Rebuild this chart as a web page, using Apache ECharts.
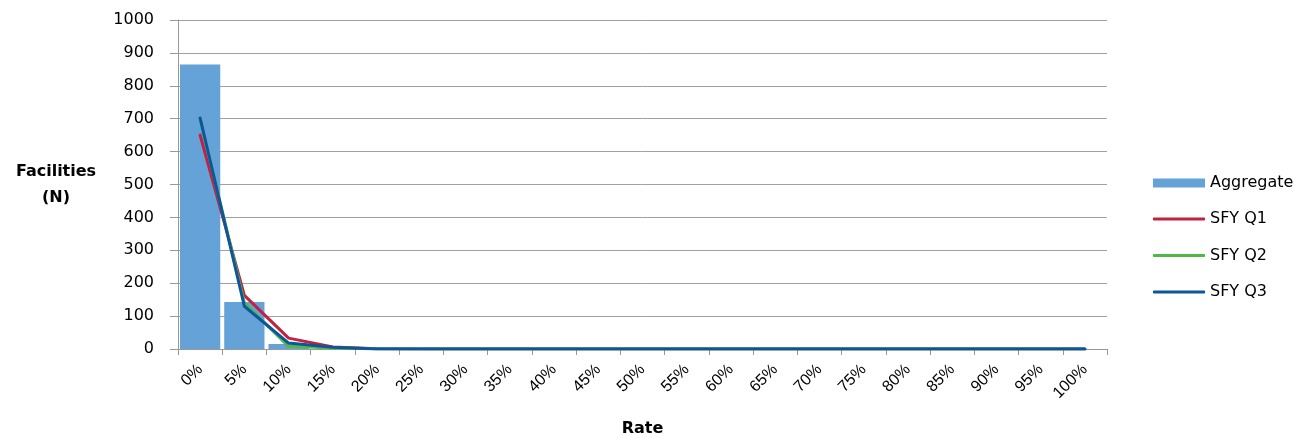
<!DOCTYPE html>
<html>
<head>
<meta charset="utf-8">
<script src="https://cdn.jsdelivr.net/npm/echarts@6/dist/echarts.min.js"></script>
<style>html,body{margin:0;padding:0;background:#fff}#c{width:1301px;height:438px}</style>
</head>
<body>
<div id="c"></div>
<script>
var categories = ['0%','5%','10%','15%','20%','25%','30%','35%','40%','45%','50%','55%','60%','65%','70%','75%','80%','85%','90%','95%','100%'];
var aggregate = [865, 143, 15, 0, 0, 0, 0, 0, 0, 0, 0, 0, 0, 0, 0, 0, 0, 0, 0, 0, 0];
var sfyQ1 = [650, 163, 33, 6, 1, 0, 0, 0, 0, 0, 0, 0, 0, 0, 0, 0, 0, 0, 0, 0, 0];
var sfyQ2 = [698, 140, 8, 3, 1, 0, 0, 0, 0, 0, 0, 0, 0, 0, 0, 0, 0, 0, 0, 0, 0];
var sfyQ3 = [702, 130, 18, 5, 0, 0, 0, 0, 0, 0, 0, 0, 0, 0, 0, 0, 0, 0, 0, 0, 0];
var yTicks = {min: 0, max: 1000, interval: 100};

var font = 'DejaVu Sans, Liberation Sans, Arial, sans-serif';
var chart = echarts.init(document.getElementById('c'), null, {renderer: 'canvas'});
function lineSeries(name, data, color) {
  return {
    name: name, type: 'line', data: data, symbol: 'none', showSymbol: false,
    lineStyle: {color: color, width: 3, cap: 'round', join: 'round'}, itemStyle: {color: color},
    z: 3, animation: false
  };
}
chart.setOption({
  animation: false,
  textStyle: {fontFamily: font},
  grid: {left: 178, right: 194, top: 20, bottom: 89, containLabel: false, outerBoundsMode: 'none'},
  legend: [
    {
      orient: 'vertical', left: 1148, top: 169,
      itemWidth: 52, itemHeight: 9, itemGap: 18,
      textStyle: {fontFamily: font, fontSize: 16, color: '#000', lineHeight: 18},
      icon: 'rect',
      data: ['Aggregate']
    },
    {
      orient: 'vertical', left: 1148, top: 205,
      itemWidth: 52, itemHeight: 3, itemGap: 18.5,
      textStyle: {fontFamily: font, fontSize: 16, color: '#000', lineHeight: 18},
      icon: 'roundRect',
      data: ['SFY Q1', 'SFY Q2', 'SFY Q3']
    }
  ],
  xAxis: {
    type: 'category', data: categories, boundaryGap: true,
    name: 'Rate', nameLocation: 'middle', nameGap: 72, nameMoveOverlap: false,
    nameTextStyle: {fontFamily: font, fontSize: 16, fontWeight: 'bold', color: '#000'},
    axisLine: {lineStyle: {color: '#999', width: 1}},
    axisTick: {show: true, length: 6, lineStyle: {color: '#999'}, alignWithLabel: false},
    axisLabel: {rotate: 45, fontFamily: 'Liberation Sans, Arial, sans-serif', fontSize: 16, color: '#000', margin: 18, interval: 0},
    splitLine: {show: false}
  },
  yAxis: {
    type: 'value', min: yTicks.min, max: yTicks.max, interval: yTicks.interval,
    name: 'Facilities\n(N)', nameLocation: 'middle', nameRotate: 0, nameGap: 122, nameMoveOverlap: false,
    nameTextStyle: {fontFamily: font, fontSize: 16, fontWeight: 'bold', color: '#000', align: 'center', lineHeight: 26},
    axisLine: {show: true, lineStyle: {color: '#999', width: 1}},
    axisTick: {show: true, length: 8, inside: false, lineStyle: {color: '#999'}},
    axisLabel: {fontFamily: font, fontSize: 16, color: '#000', margin: 24, formatter: function (v) { return String(v); }},
    splitLine: {show: true, lineStyle: {color: '#A0A0A0', width: 1}}
  },
  series: [
    {
      name: 'Aggregate', type: 'bar', data: aggregate, barCategoryGap: '9%',
      itemStyle: {color: '#64A2D8'}, z: 2, animation: false
    },
    lineSeries('SFY Q1', sfyQ1, '#C2213F'),
    lineSeries('SFY Q2', sfyQ2, '#4EB947'),
    lineSeries('SFY Q3', sfyQ3, '#0C579C')
  ]
});
</script>
</body>
</html>
